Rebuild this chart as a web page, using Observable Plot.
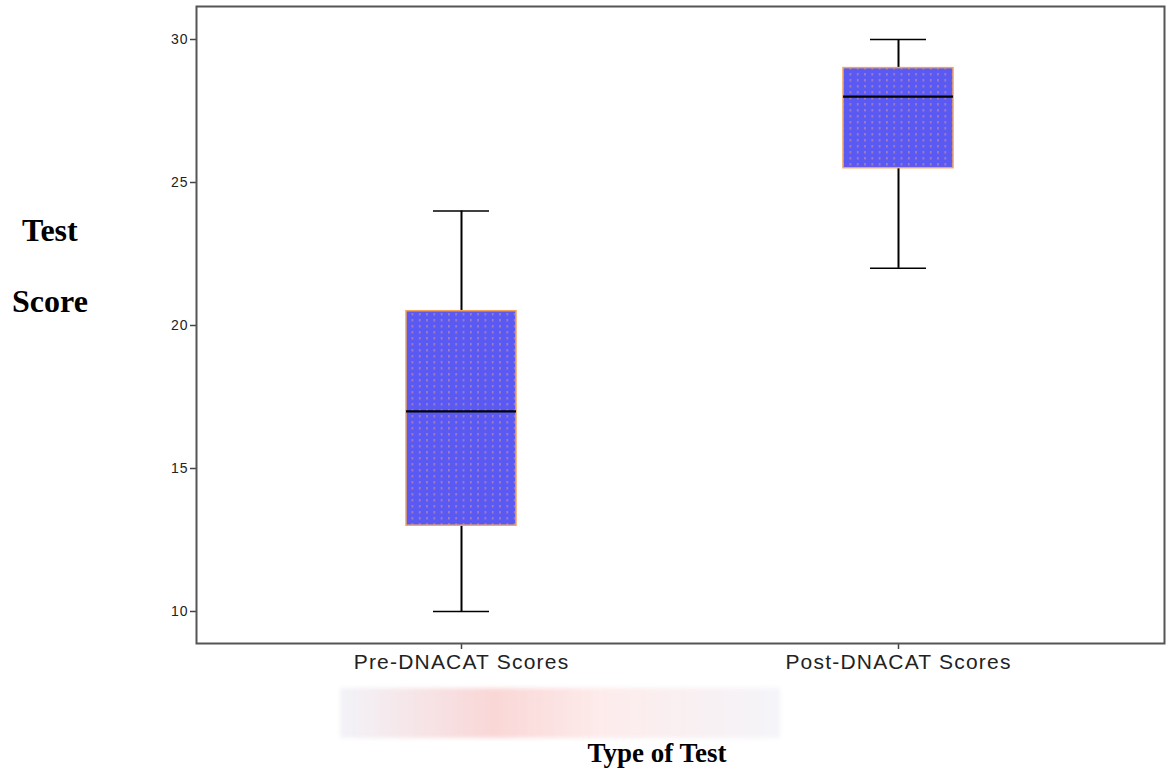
<!DOCTYPE html>
<html>
<head>
<meta charset="utf-8">
<script src="https://cdn.jsdelivr.net/npm/d3@7"></script>
<script src="https://cdn.jsdelivr.net/npm/@observablehq/plot@0.6"></script>
<style>
  html, body { margin: 0; padding: 0; background: #fff; }
  #wrap { position: relative; width: 1167px; height: 770px; overflow: hidden; }
  .ylab { position: absolute; font-family: "Liberation Serif", "Times New Roman", serif; font-weight: bold; font-size: 32px; line-height: 1; color: #000; }
  #xlab { position: absolute; left: 457px; width: 400px; text-align: center; top: 740px; font-family: "Liberation Serif", "Times New Roman", serif; font-weight: bold; font-size: 27px; line-height: 1; color: #000; }
  #wm { position: absolute; left: 340px; top: 688px; width: 440px; height: 50px;
        background: linear-gradient(90deg, rgba(220,220,235,0.35), rgba(240,140,140,0.35) 35%, rgba(250,190,190,0.3) 60%, rgba(220,220,235,0.3)); filter: blur(2px); }
</style>
</head>
<body>
<div id="wrap">
  <div id="wm"></div>
  <div id="chart"></div>
  <div class="ylab" style="left:22px; top:214px;">Test</div>
  <div class="ylab" style="left:12px; top:285px;">Score</div>
  <div id="xlab">Type of Test</div>
</div>
<script>
const categories = ["Pre-DNACAT Scores", "Post-DNACAT Scores"];
const minValues = [10, 22];
const q1Values = [13, 25.5];
const medianValues = [17, 28];
const q3Values = [20.5, 29];
const maxValues = [24, 30];
const yTicks = [10, 15, 20, 25, 30];

const data = categories.map((c, i) => ({
  cat: c, min: minValues[i], q1: q1Values[i], med: medianValues[i], q3: q3Values[i], max: maxValues[i]
}));

const chart = Plot.plot({
  width: 1167,
  height: 770,
  marginLeft: 196,
  marginRight: 3,
  marginTop: 6,
  marginBottom: 127,
  style: { fontFamily: "'Liberation Sans', Arial, sans-serif", color: "#222", background: "transparent" },
  x: { domain: categories, paddingInner: 0.748, paddingOuter: 0.48, label: null },
  y: { domain: [8.881, 31.154], label: null },
  marks: [
    Plot.ruleX(data, { x: "cat", y1: "min", y2: "max", stroke: "#000", strokeWidth: 2 }),
    Plot.tickY(data, { x: "cat", y: "min", stroke: "#000", strokeWidth: 1.5, insetLeft: 27, insetRight: 27 }),
    Plot.tickY(data, { x: "cat", y: "max", stroke: "#000", strokeWidth: 1.5, insetLeft: 27, insetRight: 27 }),
    Plot.barY(data, { x: "cat", y1: "q1", y2: "q3", fill: "url(#dotpat)", stroke: "#f4a45a", strokeWidth: 1.5 }),
    Plot.tickY(data, { x: "cat", y: "med", stroke: "#000", strokeWidth: 2.2 }),
    Plot.axisY({ ticks: yTicks, tickSize: 6, tickPadding: 2, fontSize: 14, stroke: "#444", strokeWidth: 1.5, fill: "#222" }),
    Plot.axisX({ tickSize: 6, tickPadding: 5, fontSize: 21, stroke: "#444", strokeWidth: 1.5, fill: "#222" }),
    Plot.frame({ stroke: "#555", strokeWidth: 2 })
  ]
});

// letter spacing to match the wide tick text
chart.querySelectorAll("[aria-label='x-axis tick label'] text").forEach(t => t.setAttribute("letter-spacing", "1.2"));
chart.querySelectorAll("[aria-label='y-axis tick label'] text").forEach(t => t.setAttribute("letter-spacing", "1"));

const ns = "http://www.w3.org/2000/svg";
const defs = document.createElementNS(ns, "defs");
const pat = document.createElementNS(ns, "pattern");
pat.setAttribute("id", "dotpat");
pat.setAttribute("patternUnits", "userSpaceOnUse");
pat.setAttribute("width", "7.3");
pat.setAttribute("height", "6");
const bg = document.createElementNS(ns, "rect");
bg.setAttribute("width", "7.3"); bg.setAttribute("height", "6"); bg.setAttribute("fill", "#5a5af2");
const dot = document.createElementNS(ns, "rect");
dot.setAttribute("x", "3"); dot.setAttribute("y", "1"); dot.setAttribute("width", "1.2"); dot.setAttribute("height", "2.5");
dot.setAttribute("fill", "#c08aa0");
pat.appendChild(bg); pat.appendChild(dot);
defs.appendChild(pat);
chart.insertBefore(defs, chart.firstChild);

document.getElementById("chart").appendChild(chart);
</script>
</body>
</html>
